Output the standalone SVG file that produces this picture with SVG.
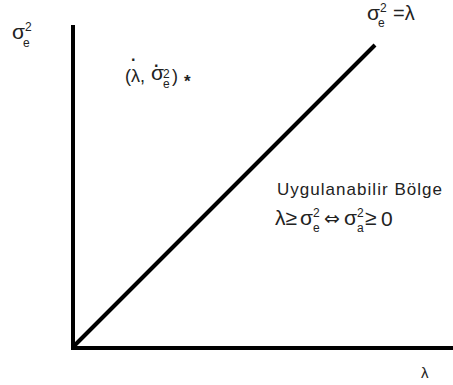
<svg xmlns="http://www.w3.org/2000/svg" width="453" height="385" viewBox="0 0 453 385">
<style>
.t{font-family:"Liberation Sans","DejaVu Sans",sans-serif;fill:#222}
.ax{stroke:#000;stroke-width:4;fill:none}
.s{font-size:12px}
.d{font-size:16px;font-weight:bold}
.arr{font-family:"DejaVu Sans",sans-serif;font-size:19px}
</style>
<rect width="453" height="385" fill="#fff"/>
<g id="connectors">
<line class="ax" x1="73" y1="25" x2="73" y2="350"/>
<line class="ax" x1="71" y1="348" x2="453" y2="348"/>
<line class="ax" x1="73" y1="347" x2="375" y2="45"/>
</g>
<g id="axis-y-label">
<text class="t" x="12" y="39" font-size="21">σ</text>
<text class="t s" x="25" y="31">2</text>
<text class="t s" x="23" y="47">e</text>
</g>
<g id="axis-x-label"><text class="t" x="421" y="378" font-size="15">λ</text></g>
<g id="line-label">
<text class="t" x="367" y="20" font-size="21">σ</text>
<text class="t s" x="380" y="12">2</text>
<text class="t s" x="378" y="27">e</text>
<text class="t" x="393" y="20" font-size="20">=λ</text>
</g>
<g id="point">
<text class="t" x="125" y="82" font-size="18">(λ,</text>
<text class="t d" x="131" y="65">·</text>
<text class="t" x="151" y="80" font-size="21">σ</text>
<text class="t d" x="154" y="71">·</text>
<text class="t s" x="163" y="78">2</text>
<text class="t s" x="163" y="88">e</text>
<text class="t" x="172" y="82" font-size="18">)</text>
<text class="t" x="184" y="87" font-size="17" font-weight="bold">*</text>
</g>
<g id="region">
<text class="t" x="277" y="195" font-size="17" textLength="165" lengthAdjust="spacing">Uygulanabilir Bölge</text>
<text class="t" x="275" y="225" font-size="21">λ≥</text>
<text class="t" x="300" y="225" font-size="21">σ</text>
<text class="t s" x="313" y="217">2</text>
<text class="t s" x="313" y="232">e</text>
<text class="t arr" x="324" y="225">⇔</text>
<text class="t" x="344" y="225" font-size="21">σ</text>
<text class="t s" x="357" y="217">2</text>
<text class="t s" x="357" y="232">a</text>
<text class="t" x="365" y="225" font-size="21">≥</text>
<text class="t" x="381" y="226" font-size="21">0</text>
</g>
</svg>
